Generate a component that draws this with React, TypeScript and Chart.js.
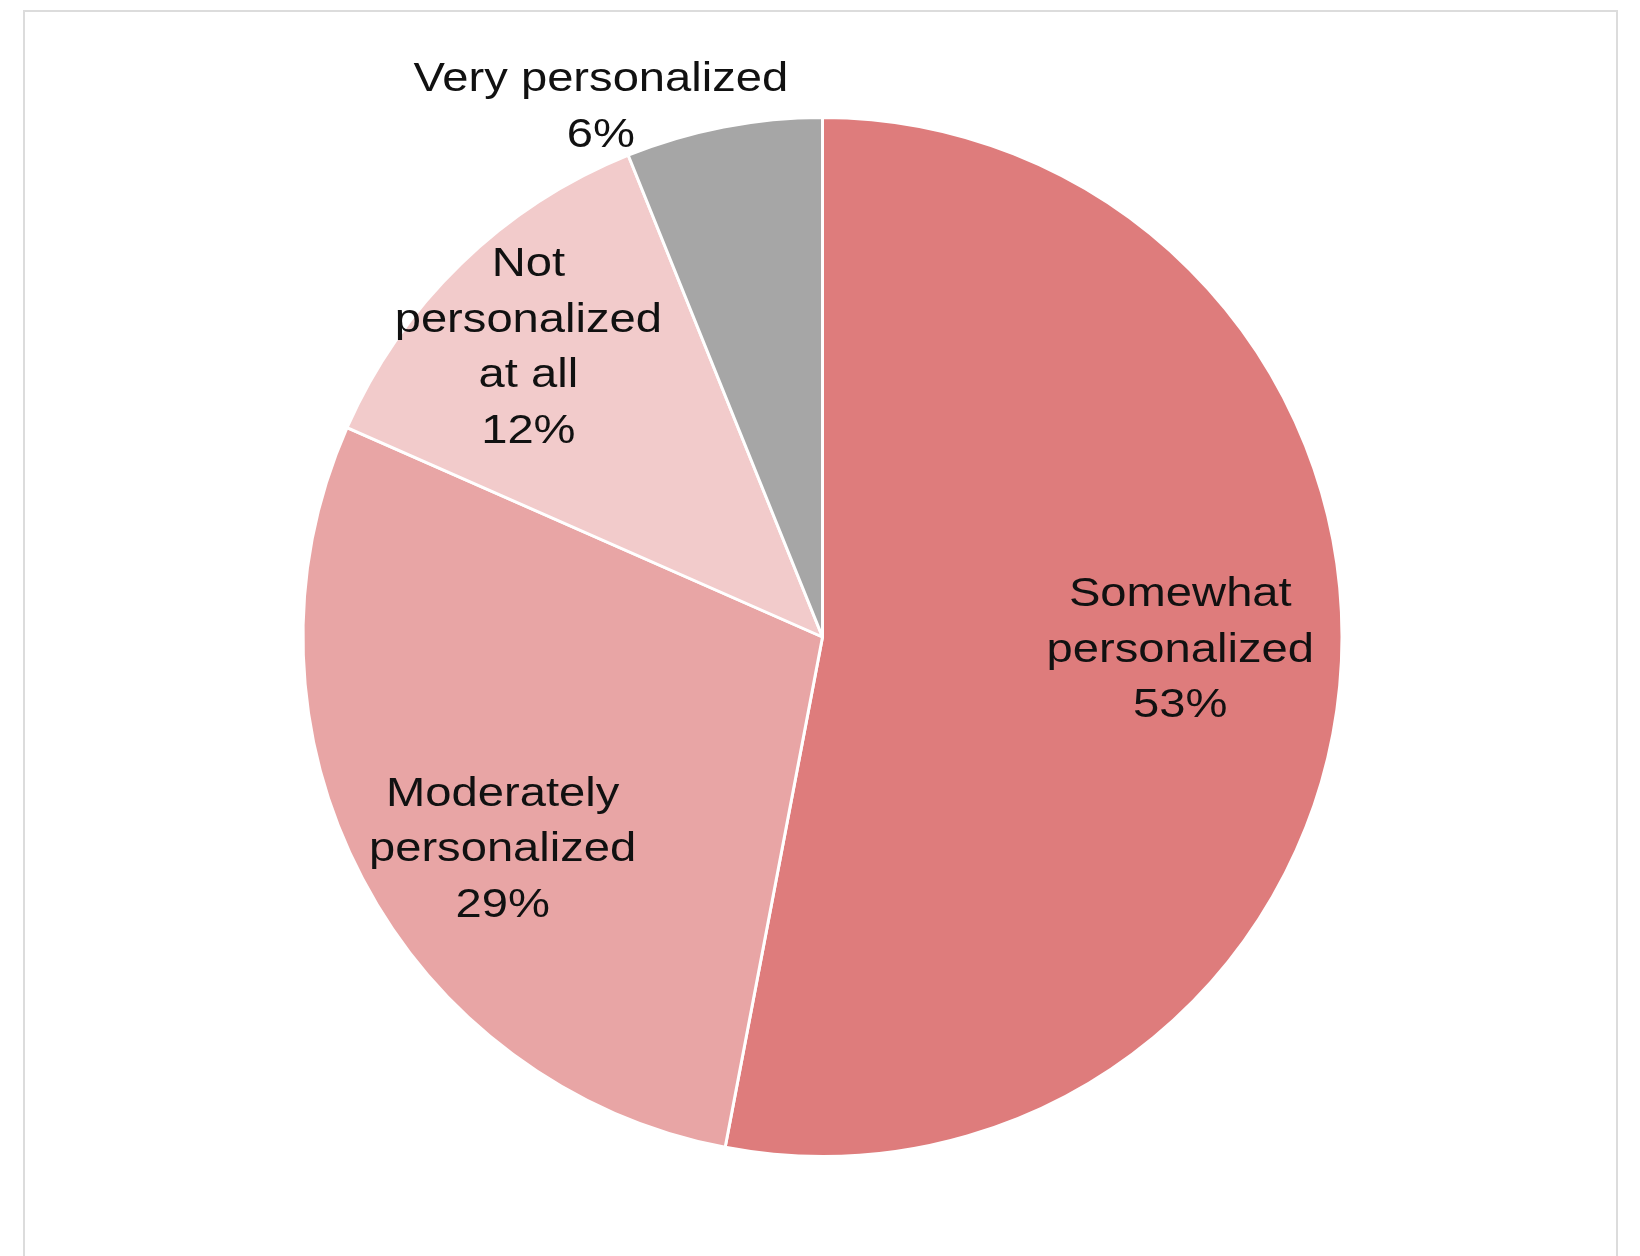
import React, { useEffect, useRef } from "react";
import { Chart, registerables } from "chart.js";

Chart.register(...registerables);

const categories: string[][] = [
  ["Somewhat", "personalized"],
  ["Moderately", "personalized"],
  ["Not", "personalized", "at all"],
  ["Very personalized"],
];
const values: number[] = [53.0, 28.6, 12.3, 6.1];
const colors: string[] = ["#DE7C7C", "#E8A5A5", "#F2CBCB", "#A6A6A6"];

// label placement relative to each slice (fraction of radius, angular shift in degrees)
const labelRadius: number[] = [0.689, 0.736, 0.798, 1.111];
const labelAngleShift: number[] = [-3.8, -5.5, -1.1, -11.6];

const FONT_SIZE = 41;
const X_STRETCH = 1.15;
const LINE_H = 55.5;

const labelPlugin = {
  id: "sliceLabels",
  afterDatasetsDraw(chart: any) {
    const ctx: CanvasRenderingContext2D = chart.ctx;
    const meta = chart.getDatasetMeta(0);
    const ds = chart.data.datasets[0];
    const total = (ds.data as number[]).reduce((a, b) => a + b, 0);
    ctx.save();
    ctx.fillStyle = "#111111";
    ctx.font = `${FONT_SIZE}px "Liberation Sans", Arial, sans-serif`;
    ctx.textAlign = "center";
    ctx.textBaseline = "alphabetic";
    meta.data.forEach((arc: any, i: number) => {
      const p = arc.getProps(["x", "y", "startAngle", "endAngle", "outerRadius"], true);
      const mid = (p.startAngle + p.endAngle) / 2 + (labelAngleShift[i] * Math.PI) / 180;
      const r = p.outerRadius * labelRadius[i];
      const cx = p.x + Math.cos(mid) * r;
      const cy = p.y + Math.sin(mid) * r;
      const pct = Math.round((ds.data[i] / total) * 100) + "%";
      const lines = [...(chart.data.labels[i] as string[]), pct];
      const n = lines.length;
      lines.forEach((line, j) => {
        const by = cy + (j - (n - 1) / 2) * LINE_H + (FONT_SIZE * 0.716) / 2;
        ctx.save();
        ctx.translate(cx, by);
        ctx.scale(X_STRETCH, 1);
        ctx.fillText(line, 0, 0);
        ctx.restore();
      });
    });
    ctx.restore();
  },
};

export default function App() {
  const ref = useRef<HTMLCanvasElement | null>(null);
  useEffect(() => {
    if (!ref.current) return;
    const chart = new Chart(ref.current, {
      type: "pie",
      data: {
        labels: categories as any,
        datasets: [
          {
            data: values,
            backgroundColor: colors,
            borderColor: "#ffffff",
            borderWidth: 3,
          },
        ],
      },
      options: {
        responsive: false,
        animation: false,
        rotation: 0,
        layout: { padding: { left: 301.5, right: 296.5, top: 116, bottom: 98 } },
        plugins: {
          legend: { display: false },
          tooltip: { enabled: false },
          title: { display: false },
        },
      },
      plugins: [labelPlugin],
    });
    return () => chart.destroy();
  }, []);

  return (
    <div
      style={{
        position: "absolute",
        left: 0,
        top: 0,
        width: 1640,
        height: 1256,
        overflow: "hidden",
        background: "#ffffff",
      }}
    >
      <div
        style={{
          position: "absolute",
          left: 23,
          top: 10,
          width: 1595,
          height: 1300,
          border: "2px solid #dcdcdc",
          boxSizing: "border-box",
        }}
      />
      <canvas
        ref={ref}
        width={1640}
        height={1256}
        style={{ position: "absolute", left: 0, top: 0, width: 1640, height: 1256 }}
      />
    </div>
  );
}
